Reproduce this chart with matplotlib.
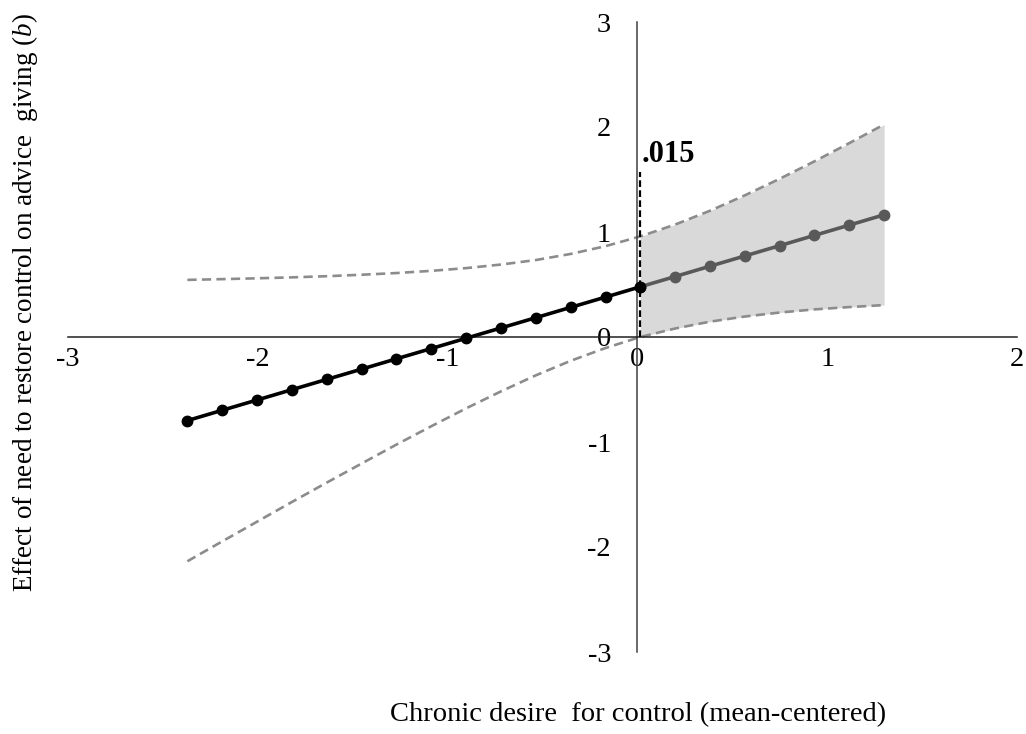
import matplotlib
matplotlib.use("Agg")
import matplotlib.pyplot as plt

plt.rcParams["font.family"] = "Liberation Serif"
plt.rcParams["mathtext.fontset"] = "custom"
plt.rcParams["mathtext.rm"] = "Liberation Serif"
plt.rcParams["mathtext.it"] = "Liberation Serif:italic"

# moderator values (mean-centered) and simple slope with 95% CI
x_vals = [-2.371, -2.188, -2.004, -1.821, -1.637, -1.453, -1.270, -1.086, -0.903, -0.719,
          -0.535, -0.352, -0.168, 0.015, 0.199, 0.382, 0.566, 0.750, 0.933, 1.117, 1.300]
effect = [-0.796, -0.698, -0.600, -0.502, -0.404, -0.306, -0.208, -0.110, -0.012, 0.086,
          0.184, 0.282, 0.380, 0.478, 0.576, 0.674, 0.772, 0.870, 0.968, 1.066, 1.164]
ci_upper = [0.544, 0.551, 0.559, 0.568, 0.579, 0.593, 0.609, 0.630, 0.656, 0.690,
            0.733, 0.791, 0.865, 0.958, 1.071, 1.202, 1.349, 1.507, 1.673, 1.847, 2.024]
ci_lower = [-2.136, -1.947, -1.759, -1.572, -1.387, -1.205, -1.025, -0.850, -0.680, -0.518,
            -0.365, -0.227, -0.105, 0.000, 0.081, 0.146, 0.195, 0.233, 0.263, 0.285, 0.304]
JN = 0.015          # Johnson-Neyman point
JN_LABEL = ".015"
JN_TOP = 1.57       # top of the dashed marker line
X_TICKS = [-3, -2, -1, 0, 1, 2]
Y_TICKS = [-3, -2, -1, 0, 1, 2, 3]

k = x_vals.index(JN)

fig = plt.figure(figsize=(10.26, 7.34), dpi=100)
ax = fig.add_axes([68 / 1026, 82 / 734, 949 / 1026, 630 / 734])
ax.set_xlim(-3, 2); ax.set_ylim(-3, 3)

# significance region shading
ax.fill_between(x_vals[k:], ci_lower[k:], ci_upper[k:], color="#d9d9d9", lw=0, zorder=1)
ax.plot(x_vals, ci_upper, color="#8c8c8c", lw=1.9, dashes=(3.5, 2), zorder=2)
ax.plot(x_vals, ci_lower, color="#8c8c8c", lw=1.9, dashes=(3.5, 2), zorder=2)
ax.plot(x_vals[:k + 1], effect[:k + 1], "o-", color="black", lw=2.6, ms=7.5, zorder=4)
ax.plot(x_vals[k:], effect[k:], "o-", color="#595959", lw=2.6, ms=7.5, zorder=3)
ax.plot([JN, JN], [0, JN_TOP], color="black", lw=1.6, dashes=(3, 1.5), zorder=5)
ax.text(JN + 0.005, JN_TOP + 0.1, JN_LABEL, fontsize=22, fontweight="bold", ha="left", va="baseline")

# axes crossing at origin, Excel style
for s in ["top", "right"]:
    ax.spines[s].set_visible(False)
ax.spines["left"].set_position(("data", 0))
ax.spines["bottom"].set_position(("data", 0))
ax.spines["left"].set_color("#404040"); ax.spines["bottom"].set_color("#202020")
ax.spines["left"].set_linewidth(1.1); ax.spines["bottom"].set_linewidth(1.1)
ax.set_xticks(X_TICKS); ax.set_yticks(Y_TICKS)
ax.set_xticklabels([str(t) for t in X_TICKS]); ax.set_yticklabels([str(t) for t in Y_TICKS])
ax.tick_params(axis="x", length=0, pad=7, labelsize=20.5)
ax.tick_params(axis="y", length=0, pad=19, labelsize=20.5)
ax.patch.set_visible(False)

fig.text(638 / 1026, 1 - 715 / 734, "Chronic desire  for control (mean-centered)",
         fontsize=20.5, ha="center", va="center")
fig.text(25 / 1026, 1 - 302 / 734, r"Effect of need to restore control on advice  giving ($\mathit{b}$)",
         fontsize=19.5, ha="center", va="center", rotation=90)

fig.savefig("out.png", dpi=100)
